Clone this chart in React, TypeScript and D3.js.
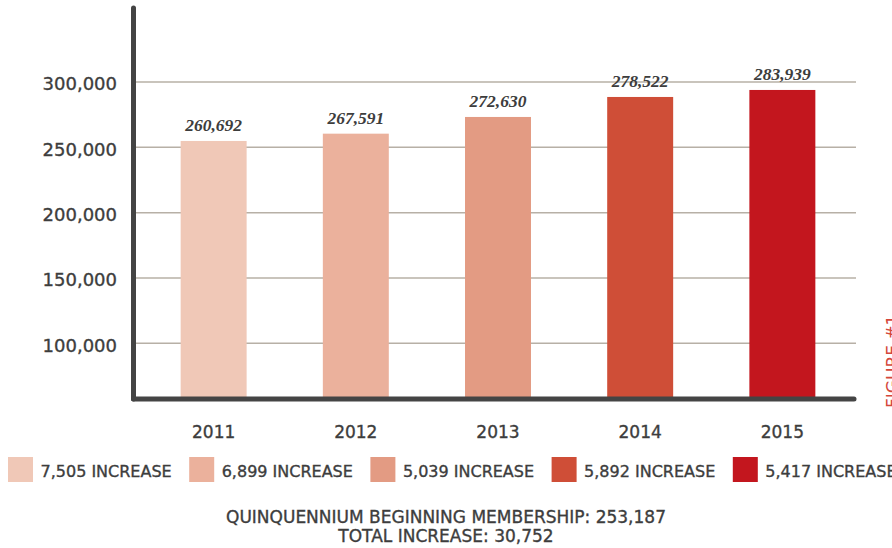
import React from 'react';
import * as d3 from 'd3';

// values
const years = ['2011', '2012', '2013', '2014', '2015'];
const barValues = [254850, 260440, 273220, 288520, 293880];
const barLabels = ['260,692', '267,591', '272,630', '278,522', '283,939'];
const increases = ['7,505', '6,899', '5,039', '5,892', '5,417'];
const barColors = ['#f0c8b7', '#ebb19c', '#e39b83', '#cf4e37', '#c3161e'];
const yTicks = [100000, 150000, 200000, 250000, 300000];
const footerLines = ['QUINQUENNIUM BEGINNING MEMBERSHIP: 253,187', 'TOTAL INCREASE: 30,752'];

const W = 892;
const H = 548;
const sans = "'DejaVu Sans', sans-serif";
const ink = '#3d3d3d';
// thin stroke gives the sans text a medium weight like the original
const medium = { stroke: ink, strokeWidth: 0.35 };

const App = () => {
    const axisX = 133.5;
    const axisY = 399;
    const plotRight = 856;

    const x = d3.scaleBand()
        .domain(years)
        .range([138, 858])
        .paddingInner(0.536)
        .paddingOuter(0.3);

    const y = d3.scaleLinear()
        .domain([57400, 356600])
        .range([axisY, 8]);

    const fmt = d3.format(',');

    return (
        <svg width={W} height={H} style={{ position: 'absolute', left: 0, top: 0 }}>
            <rect width={W} height={H} fill="#fff" />
            {/* gridlines */}
            {yTicks.map((t) => (
                <line key={t} x1={axisX + 2} x2={plotRight} y1={y(t)} y2={y(t)}
                    stroke="#b7b0a6" strokeWidth={1.5} />
            ))}
            {/* y tick labels */}
            {yTicks.map((t) => (
                <text key={`l${t}`} x={117} y={y(t) + 8.3} textAnchor="end"
                    fontFamily={sans} fontSize={18} fill={ink} {...medium}>{fmt(t)}</text>
            ))}
            {/* bars */}
            {years.map((yr, i) => (
                <rect key={yr} x={x(yr)} y={y(barValues[i])} width={x.bandwidth()}
                    height={axisY - y(barValues[i])} fill={barColors[i]} />
            ))}
            {/* value labels */}
            {years.map((yr, i) => (
                <text key={`v${yr}`} x={(x(yr) as number) + x.bandwidth() / 2}
                    y={y(barValues[i]) - 10} textAnchor="middle"
                    fontFamily="'Liberation Serif', serif" fontStyle="italic" fontWeight="bold"
                    fontSize={17.5} fill={ink}>{barLabels[i]}</text>
            ))}
            {/* axes */}
            <line x1={axisX} x2={axisX} y1={8} y2={axisY} stroke="#444" strokeWidth={5} strokeLinecap="round" />
            <line x1={axisX} x2={854} y1={axisY} y2={axisY} stroke="#444" strokeWidth={5} strokeLinecap="round" />
            {/* year labels */}
            {years.map((yr) => (
                <text key={`y${yr}`} x={(x(yr) as number) + x.bandwidth() / 2} y={438}
                    textAnchor="middle" fontFamily={sans} fontSize={17} fill={ink} {...medium}>{yr}</text>
            ))}
            {/* legend */}
            {years.map((yr, i) => {
                const lx = 8 + i * 181.2;
                return (
                    <g key={`g${yr}`}>
                        <rect x={lx} y={457} width={25} height={25} fill={barColors[i]} />
                        <text x={lx + 32.5} y={476.5} fontFamily={sans} fontSize={16} fill={ink} {...medium}>
                            {`${increases[i]} INCREASE`}
                        </text>
                    </g>
                );
            })}
            {/* footer */}
            {footerLines.map((line, i) => (
                <text key={line} x={446} y={523 + i * 18.5} textAnchor="middle"
                    fontFamily={sans} fontSize={17} fill={ink} {...medium}>{line}</text>
            ))}
            <text transform="translate(898.5,408) rotate(-90)" fontFamily={sans} fontSize={17}
                fill="#d4473b">FIGURE #1</text>
        </svg>
    );
};

export default App;
